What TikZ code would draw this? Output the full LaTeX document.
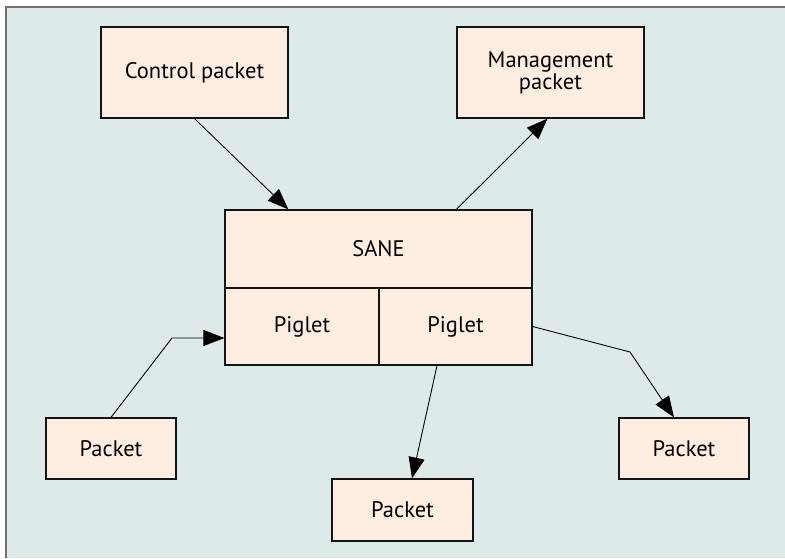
\documentclass[tikz,border=0pt]{standalone}
\usepackage{fontspec}
\setmainfont{PT Sans}
\usetikzlibrary{arrows.meta}
\definecolor{bgc}{RGB}{222,234,234}
\definecolor{boxc}{RGB}{253,238,225}
\definecolor{framec}{RGB}{112,112,112}
\definecolor{linec}{RGB}{20,20,20}
\begin{document}
\begin{tikzpicture}[x=1pt,y=-1pt,
  box/.style={draw=linec,fill=boxc,line width=1.2pt,rectangle,inner sep=0pt,align=center,
    font=\fontsize{22.5}{22}\selectfont},
  conn/.style={draw=black,line width=0.9pt,-{Triangle[length=21pt,width=16pt]}}]
\useasboundingbox (0,0) rectangle (785,558);
\fill[white] (0,0) rectangle (785,558);
\fill[bgc] (6,7) rectangle (785,558);
\draw[framec,line width=2pt] (6,558) -- (6,7) -- (785,7);
\node[box,minimum width=187pt,minimum height=91pt] (ctrl) at (194.5,72.5) {Control packet};
\node[box,minimum width=187pt,minimum height=91pt] (mgmt) at (550.5,72.5) {Management\\packet};
\node[box,minimum width=307pt,minimum height=78pt] (sane) at (378.5,249) {SANE};
\node[box,minimum width=154pt,minimum height=77pt] (p1) at (302,326.5) {Piglet};
\node[box,minimum width=153pt,minimum height=77pt] (p2) at (455.5,326.5) {Piglet};
\node[box,minimum width=130pt,minimum height=61pt] (pktL) at (111,448.5) {Packet};
\node[box,minimum width=141pt,minimum height=62pt] (pktM) at (402.5,510) {Packet};
\node[box,minimum width=130pt,minimum height=61pt] (pktR) at (684,448.5) {Packet};
\coordinate (bendL) at (172,338);
\coordinate (bendR) at (630,352);
\draw[conn] (ctrl.south) -- ([xshift=64pt]sane.north west);
\draw[conn] ([xshift=232pt]sane.north west) -- ([xshift=-3pt]mgmt.south);
\draw[conn] (pktL.north) -- (bendL) -- (bendL -| p1.west);
\draw[conn] ([xshift=-18.5pt]p2.south) -- ([xshift=9.5pt]pktM.north);
\draw[conn] (p2.east) -- (bendR) -- ([xshift=-10pt]pktR.north);
\end{tikzpicture}
\end{document}
